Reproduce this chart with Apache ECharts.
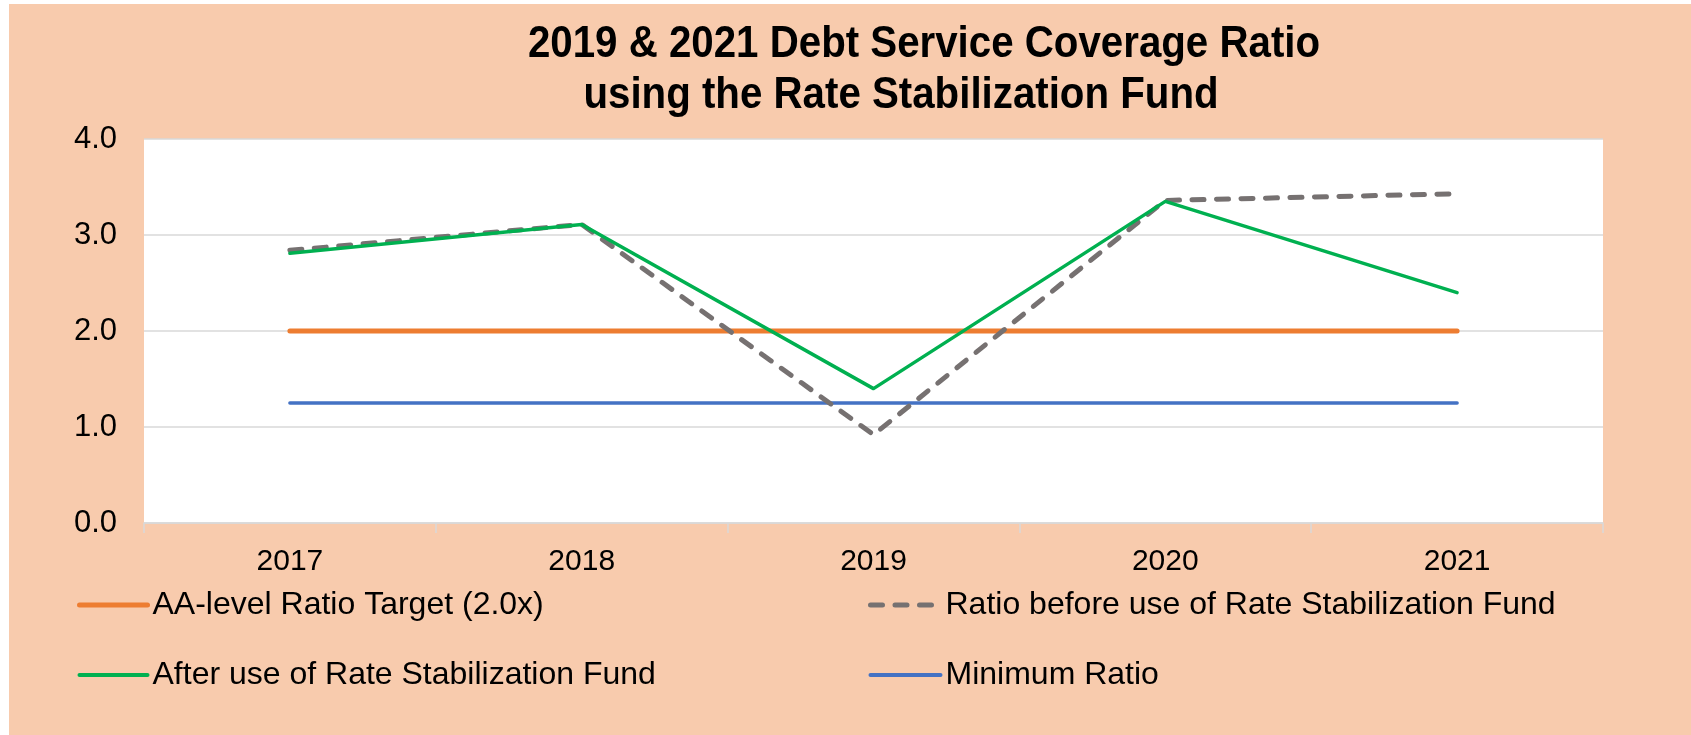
<!DOCTYPE html>
<html>
<head>
<meta charset="utf-8">
<script src="https://cdn.jsdelivr.net/npm/echarts@6/dist/echarts.min.js"></script>
<style>
  html, body { margin: 0; padding: 0; background: #ffffff; width: 1691px; height: 735px; overflow: hidden; }
  #chart { position: absolute; left: 9px; top: 4px; width: 1682px; height: 731px; }
</style>
</head>
<body>
<div id="chart"></div>
<script>
const categories = ['2017', '2018', '2019', '2020', '2021'];
const targetRatio = [2.0, 2.0, 2.0, 2.0, 2.0];
const beforeFund = [2.84, 3.11, 0.92, 3.36, 3.43];
const afterFund = [2.81, 3.11, 1.40, 3.35, 2.40];
const minimumRatio = [1.25, 1.25, 1.25, 1.25, 1.25];
const yTicks = [0, 1, 2, 3, 4];
const titleLines = ['2019 & 2021 Debt Service Coverage Ratio', 'using the Rate Stabilization Fund'];
const seriesNames = ['AA-level Ratio Target (2.0x)', 'Ratio before use of Rate Stabilization Fund',
                     'After use of Rate Stabilization Fund', 'Minimum Ratio'];

const FONT = '"Liberation Sans", Arial, Helvetica, sans-serif';
const cOrange = '#ED7D31', cGray = '#767171', cGreen = '#00B050', cBlue = '#4472C4';
const dash = [12, 12.5];
const hideSym = { opacity: 0 };

const chart = echarts.init(document.getElementById('chart'));
chart.setOption({
  backgroundColor: '#F8CBAD',
  animation: false,
  graphic: [
    { type: 'text', x: 915, y: 41, scaleX: 0.915, z: 10,
      style: { text: titleLines[0], textAlign: 'center', textVerticalAlign: 'middle',
               font: 'bold 44px ' + FONT, fill: '#000' } },
    { type: 'text', x: 892, y: 92, scaleX: 0.915, z: 10,
      style: { text: titleLines[1], textAlign: 'center', textVerticalAlign: 'middle',
               font: 'bold 44px ' + FONT, fill: '#000' } }
  ],
  grid: { left: 135, right: 88, top: 135, bottom: 212, show: true, backgroundColor: '#FFFFFF', borderWidth: 0 },
  xAxis: {
    type: 'category', data: categories, boundaryGap: true,
    axisLine: { show: true, lineStyle: { color: '#D9D9D9', width: 1.5 } },
    axisTick: { show: true, length: 10, lineStyle: { color: '#D9D9D9', width: 1.5 } },
    axisLabel: { margin: 24, fontFamily: FONT, fontSize: 30, color: '#000' },
    splitLine: { show: false }
  },
  yAxis: {
    type: 'value', min: yTicks[0], max: yTicks[yTicks.length - 1], interval: 1,
    axisLine: { show: false }, axisTick: { show: false },
    axisLabel: { margin: 27, fontFamily: FONT, fontSize: 31, color: '#000',
                 formatter: v => v.toFixed(1) },
    splitLine: { show: true, lineStyle: { color: '#D9D9D9', width: 1.5 } }
  },
  legend: [
    { orient: 'vertical', left: 63, top: 579, itemWidth: 68, itemHeight: 14, itemGap: 36,
      textStyle: { fontFamily: FONT, fontSize: 32, color: '#000', lineHeight: 34 },
      data: [
        { name: seriesNames[0], itemStyle: hideSym, lineStyle: { width: 5, cap: 'round' } },
        { name: seriesNames[2], itemStyle: hideSym, lineStyle: { width: 4, cap: 'round' } }
      ] },
    { orient: 'vertical', left: 854, top: 579, itemWidth: 70, itemHeight: 14, itemGap: 36,
      textStyle: { fontFamily: FONT, fontSize: 32, color: '#000', lineHeight: 34 },
      data: [
        { name: seriesNames[1], itemStyle: hideSym, lineStyle: { width: 5, cap: 'round', type: dash } },
        { name: seriesNames[3], itemStyle: hideSym, lineStyle: { width: 4, cap: 'round' } }
      ] }
  ],
  series: [
    { name: seriesNames[3], type: 'line', data: minimumRatio, symbol: 'none', z: 2,
      lineStyle: { color: cBlue, width: 3.5, cap: 'round' }, itemStyle: { color: cBlue } },
    { name: seriesNames[0], type: 'line', data: targetRatio, symbol: 'none', z: 3,
      lineStyle: { color: cOrange, width: 5, cap: 'round' }, itemStyle: { color: cOrange } },
    { name: seriesNames[1], type: 'line', data: beforeFund, symbol: 'none', z: 4,
      lineStyle: { color: cGray, width: 5, cap: 'round', join: 'round', type: dash }, itemStyle: { color: cGray } },
    { name: seriesNames[2], type: 'line', data: afterFund, symbol: 'none', z: 5,
      lineStyle: { color: cGreen, width: 3.5, cap: 'round', join: 'round' }, itemStyle: { color: cGreen } }
  ]
});
</script>
</body>
</html>
